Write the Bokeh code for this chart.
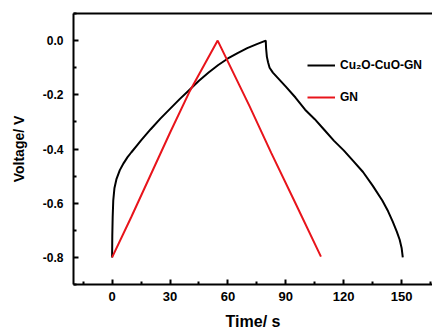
from bokeh.plotting import figure
from bokeh.models import Range1d, LinearAxis, Legend, LegendItem, FixedTicker, CustomJSTickFormatter
from bokeh.embed import file_html
from bokeh.resources import INLINE

# Data
black_t = [0, 0.1, 0.3, 0.6, 1.2, 2.3, 4, 6, 8, 10, 12.5, 15, 20, 25, 30, 35, 40, 45, 50, 55, 60,
           65, 70, 75, 79.6,
           79.8, 80.2, 80.8, 81.6, 83.3, 90, 95, 100, 105, 110, 115, 120, 125, 130, 135, 140, 143,
           145.4, 147.5, 149, 150, 150.6]
black_v = [-0.80, -0.72, -0.65, -0.59, -0.545, -0.51, -0.478, -0.452, -0.43, -0.412, -0.39, -0.368,
           -0.327, -0.288, -0.252, -0.216, -0.182, -0.148, -0.118, -0.09, -0.066, -0.046, -0.028,
           -0.013, 0.0,
           -0.03, -0.06, -0.08, -0.10, -0.118, -0.17, -0.21, -0.255, -0.29, -0.33, -0.37, -0.405,
           -0.445, -0.485, -0.535, -0.59, -0.63, -0.668, -0.705, -0.735, -0.765, -0.80]
red_t = [0, 10, 20, 30, 40, 54.7, 71.2, 82.5, 95, 108.2]
red_v = [-0.80, -0.65, -0.495, -0.34, -0.19, 0.0, -0.242, -0.415, -0.60, -0.797]
x_ticks = [0, 30, 60, 90, 120, 150]
x_minor = [-15, 15, 45, 75, 105, 135, 165]
y_ticks = [-0.8, -0.6, -0.4, -0.2, 0.0]
y_minor = [-0.9, -0.7, -0.5, -0.3, -0.1, 0.1]
series_names = ["Cu\u2082O-CuO-GN", "GN"]

FONT = "Liberation Sans"

p = figure(width=432, height=332, output_backend="svg", toolbar_location=None,
           x_range=Range1d(-20, 166), y_range=Range1d(-0.9, 0.1),
           min_border_left=73, min_border_right=0, min_border_top=13, min_border_bottom=46)
p.outline_line_color = None
p.grid.visible = False
p.background_fill_color = "white"
p.border_fill_color = "white"

r1 = p.line(black_t, black_v, line_color="black", line_width=2)
r2 = p.line(red_t, red_v, line_color="#e8141b", line_width=2)

xa = p.xaxis[0]
xa.ticker = FixedTicker(ticks=x_ticks, minor_ticks=x_minor)
ya = p.yaxis[0]
ya.ticker = FixedTicker(ticks=y_ticks, minor_ticks=y_minor)
ya.formatter = CustomJSTickFormatter(code="return tick.toFixed(1);")

for ax in (xa, ya):
    ax.axis_line_width = 2
    ax.axis_line_color = "black"
    ax.major_tick_in = 5
    ax.major_tick_out = 0
    ax.minor_tick_in = 3
    ax.minor_tick_out = 0
    ax.major_tick_line_width = 2
    ax.minor_tick_line_width = 2
    ax.major_tick_line_color = "black"
    ax.minor_tick_line_color = "black"
    ax.major_label_text_font = FONT
    ax.major_label_text_font_style = "bold"
    ax.major_label_text_color = "black"
    ax.axis_label_text_font = FONT
    ax.axis_label_text_font_style = "bold"
    ax.axis_label_text_color = "black"

xa.axis_label = "Time/ s"
xa.major_label_text_font_size = "13px"
xa.axis_label_text_font_size = "16px"
xa.major_label_standoff = 7
xa.axis_label_standoff = 9

ya.axis_label = "Voltage/ V"
ya.major_label_text_font_size = "12px"
ya.axis_label_text_font_size = "14px"
ya.major_label_standoff = 10
ya.axis_label_standoff = 13

top = LinearAxis(axis_line_width=2, axis_line_color="black",
                 major_tick_line_color=None, minor_tick_line_color=None,
                 major_label_text_alpha=0, major_label_text_font_size="1px",
                 major_label_standoff=0, ticker=FixedTicker(ticks=[0]))
p.add_layout(top, "above")

legend = Legend(items=[LegendItem(label=series_names[0], renderers=[r1]),
                       LegendItem(label=series_names[1], renderers=[r2])],
                location=(234, 177), padding=0, margin=0, spacing=12,
                glyph_width=28, glyph_height=20, label_height=20, label_standoff=5,
                label_text_font=FONT, label_text_font_style="bold",
                label_text_font_size="12px", label_text_color="black",
                border_line_color=None, background_fill_alpha=0)
p.add_layout(legend, "center")

open("out.html", "w").write(file_html(p, INLINE))
